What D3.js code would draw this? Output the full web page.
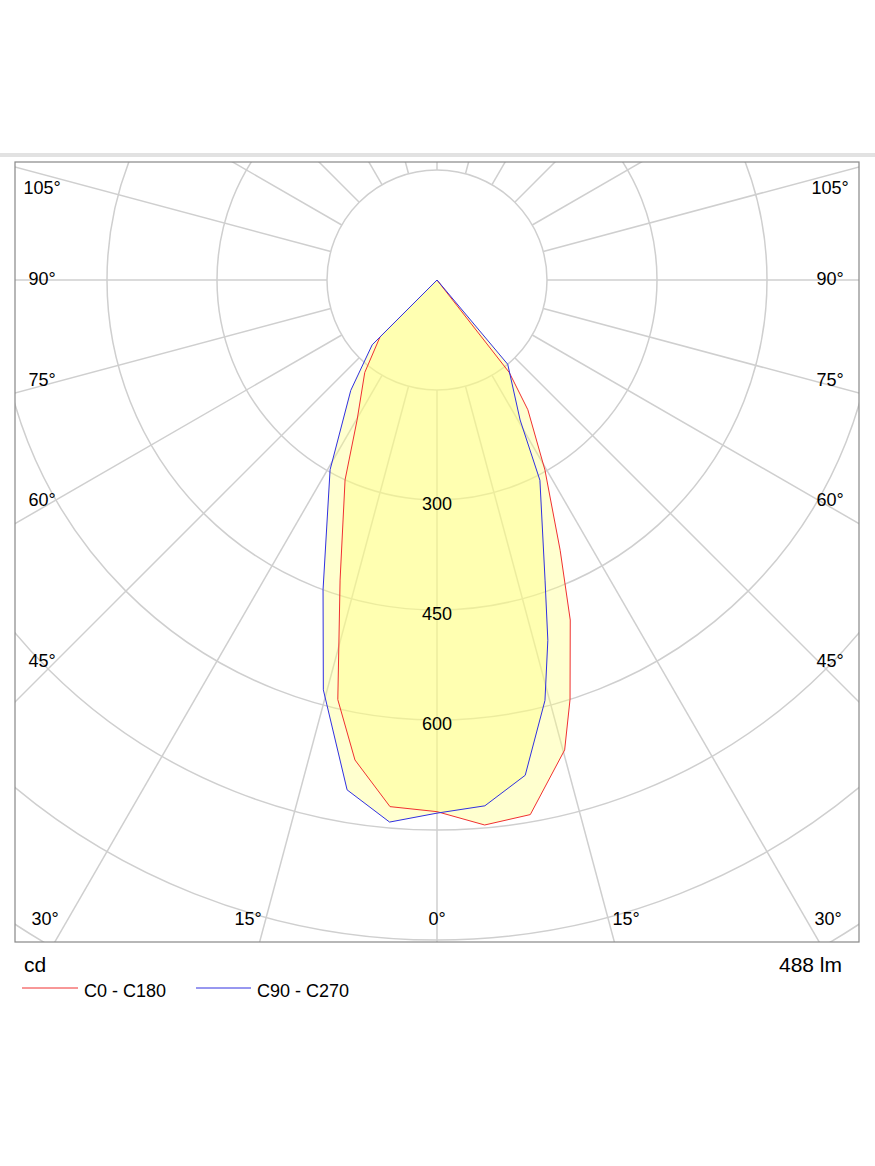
<!DOCTYPE html>
<html><head><meta charset="utf-8">
<script src="https://cdn.jsdelivr.net/npm/d3@7"></script>
<style>body{margin:0;background:#fff}text{font-family:Arial,"Liberation Sans",sans-serif}</style>
</head><body><svg id="c" width="875" height="1166"></svg>
<script>
// gamma angles (deg, measured from downward nadir; positive = right side)
const redAngles = [-180, -45, -38, -29.7, -24.7, -17.9, -13.3, -9.7, -5.1, 0, 5, 9.9, 15.2, 17.6, 21.4, 24.5, 29.6, 35, 38, 180];
const redValues = [0, 110, 160, 220, 300, 430, 588, 664, 721, 725, 746, 740, 664, 600, 498, 405, 298, 216, 160, 0];
const blueAngles = [-180, -45, -38, -29.4, -20.2, -15.5, -10, -5, 0, 5.2, 10.1, 14.4, 17.1, 19.8, 27.2, 30.7, 40, 180];
const blueValues = [0, 125, 191, 297, 450, 580, 706, 742, 727, 720, 686, 592, 514, 435, 307, 222, 150, 0];
const ringValues = [150, 300, 450, 600, 750, 900, 1050, 1200, 1350, 1500];
const ringLabels = [300, 450, 600];
const leftLabels = [["105°",188],["90°",279],["75°",380],["60°",500],["45°",661]];
const bottomLabels = [["30°",45],["15°",248],["0°",437],["15°",626],["30°",828]];

const svg = d3.select("#c");
const cx = 437, cy = 280;
const r = d3.scaleLinear().domain([0,150]).range([0,110]);
const fx0=15, fx1=859, fy0=162, fy1=942;

svg.append("rect").attr("x",0).attr("y",153).attr("width",875).attr("height",4).attr("fill","#e2e2e2");
svg.append("defs").append("clipPath").attr("id","clip").append("rect")
  .attr("x",fx0).attr("y",fy0).attr("width",fx1-fx0).attr("height",fy1-fy0);
const g = svg.append("g").attr("clip-path","url(#clip)");
const grid="#cfcfcf";
ringValues.forEach(v=>g.append("circle").attr("cx",cx).attr("cy",cy).attr("r",r(v))
  .attr("fill","none").attr("stroke",grid).attr("stroke-width",1.5));
for(let a=0;a<360;a+=15){
  const t=a*Math.PI/180;
  g.append("line").attr("x1",cx+Math.sin(t)*r(150)).attr("y1",cy+Math.cos(t)*r(150))
   .attr("x2",cx+Math.sin(t)*1500).attr("y2",cy+Math.cos(t)*1500)
   .attr("stroke",grid).attr("stroke-width",1.5);
}
function path(angles, vals){
  return d3.line().x((d,i)=>cx+Math.sin(angles[i]*Math.PI/180)*r(vals[i]))
    .y((d,i)=>cy+Math.cos(angles[i]*Math.PI/180)*r(vals[i])).curve(d3.curveLinearClosed)(vals);
}
[[redAngles,redValues],[blueAngles,blueValues]].forEach(([a,v])=>
  g.append("path").attr("d",path(a,v)).attr("fill","#ffff80").attr("fill-opacity",0.38).attr("stroke","none"));
g.append("path").attr("d",path(redAngles,redValues)).attr("fill","none").attr("stroke","#f03030").attr("stroke-width",1);
g.append("path").attr("d",path(blueAngles,blueValues)).attr("fill","none").attr("stroke","#3030e0").attr("stroke-width",1);

ringLabels.forEach(v=>svg.append("text").attr("x",cx).attr("y",cy+r(v)+10).attr("text-anchor","middle")
  .attr("font-size",18).text(v));
leftLabels.forEach(([t,y])=>{
  svg.append("text").attr("x",42).attr("y",y+6).attr("text-anchor","middle").attr("font-size",18).text(t);
  svg.append("text").attr("x",830).attr("y",y+6).attr("text-anchor","middle").attr("font-size",18).text(t);
});
bottomLabels.forEach(([t,x])=>svg.append("text").attr("x",x).attr("y",925).attr("text-anchor","middle").attr("font-size",18).text(t));
svg.append("rect").attr("x",fx0).attr("y",fy0).attr("width",fx1-fx0).attr("height",fy1-fy0)
  .attr("fill","none").attr("stroke","#888").attr("stroke-width",1.2);
svg.append("text").attr("x",24).attr("y",972).attr("font-size",21).text("cd");
svg.append("text").attr("x",842).attr("y",972).attr("text-anchor","end").attr("font-size",21).text("488 lm");
svg.append("line").attr("x1",22).attr("x2",78).attr("y1",988).attr("y2",988).attr("stroke","#f03030");
svg.append("text").attr("x",84).attr("y",997).attr("font-size",18).text("C0 - C180");
svg.append("line").attr("x1",196).attr("x2",251).attr("y1",988).attr("y2",988).attr("stroke","#3030e0");
svg.append("text").attr("x",257).attr("y",997).attr("font-size",18).text("C90 - C270");
</script></body></html>
